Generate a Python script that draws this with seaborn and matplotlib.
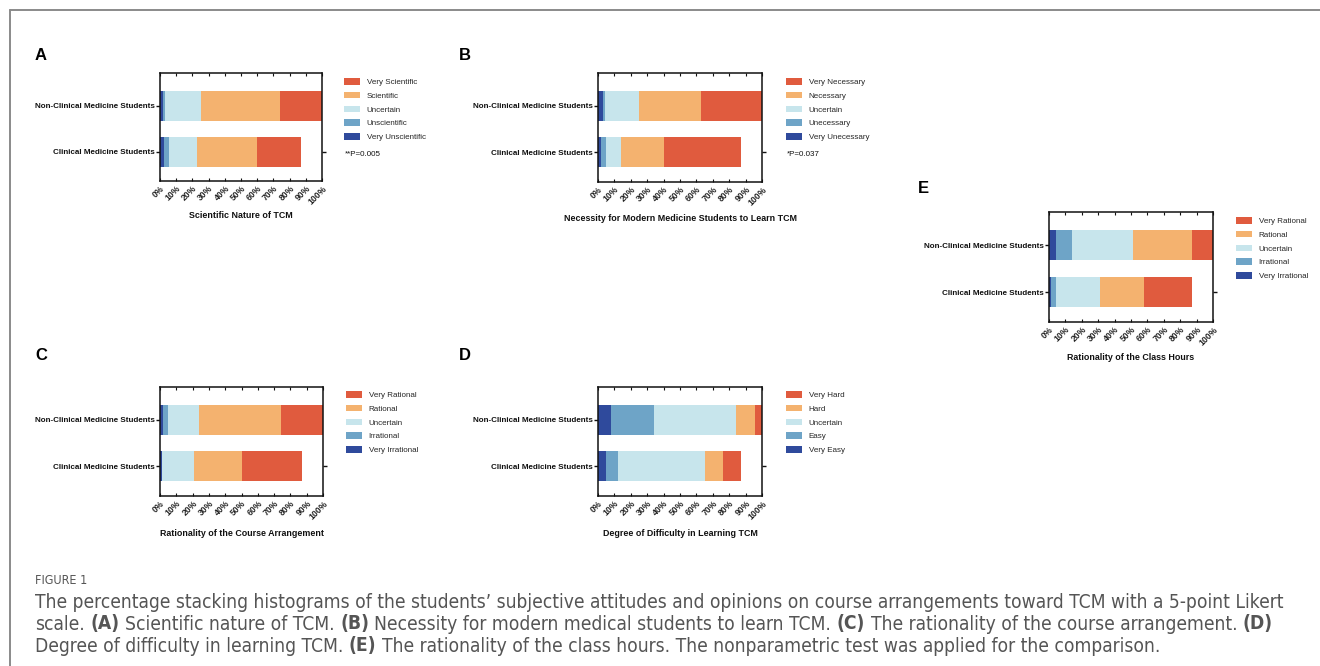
import pandas as pd
import matplotlib.pyplot as plt
import seaborn as sns
from matplotlib.patches import Patch
from matplotlib.lines import Line2D
from matplotlib import font_manager

W, H = 1320, 666

groups = ["Non-Clinical Medicine Students", "Clinical Medicine Students"]

# colours low -> high
palette = ["#2F4A9C", "#6EA4C7", "#C7E5EC", "#F4B26F", "#E05B3E"]

# A: scientific nature
a_levels = ["Very Unscientific", "Unscientific", "Uncertain", "Scientific", "Very Scientific"]
a_nonclin = [2, 1, 22, 49, 26]
a_clin = [2.7, 3, 17.3, 37, 27.3]

# B: necessity
b_levels = ["Very Unecessary", "Unecessary", "Uncertain", "Necessary", "Very Necessary"]
b_nonclin = [3, 1, 21, 37.5, 37.5]
b_clin = [2, 3, 9, 26, 47]

# C: course arrangement
c_levels = ["Very Irrational", "Irrational", "Uncertain", "Rational", "Very Rational"]
c_nonclin = [2, 3, 19, 50, 26]
c_clin = [1, 0.3, 19.7, 29, 37.2]

# D: difficulty
d_levels = ["Very Easy", "Easy", "Uncertain", "Hard", "Very Hard"]
d_nonclin = [8, 26, 50, 12, 4]
d_clin = [5, 7, 53, 11, 11]

# E: class hours
e_levels = ["Very Irrational", "Irrational", "Uncertain", "Rational", "Very Rational"]
e_nonclin = [4, 10, 37, 36, 13]
e_clin = [1, 3, 27, 27, 29]

xticks = list(range(0, 101, 10))
xticklabels = [f"{t}%" for t in xticks]

caption_head = "FIGURE 1"
caption_lines = [
    [("The percentage stacking histograms of the students\u2019 subjective attitudes and opinions on course arrangements toward TCM with a 5-point Likert", False)],
    [("scale.", False), ("(A)", True), ("Scientific nature of TCM.", False), ("(B)", True),
     ("Necessity for modern medical students to learn TCM.", False), ("(C)", True),
     ("The rationality of the course arrangement.", False), ("(D)", True)],
    [("Degree of difficulty in learning TCM.", False), ("(E)", True),
     ("The rationality of the class hours. The nonparametric test was applied for the comparison.", False)],
]

sns.set_style("white")
plt.rcParams["font.family"] = ["Liberation Sans", "DejaVu Sans"]

fig = plt.figure(figsize=(W / 100, H / 100), dpi=100)


def fx(x):
    return x / W


def fy(y):
    return 1 - y / H


def panel(box, letter, letter_xy, levels, nonclin, clin, xlabel, xlabel_y, leg_xy, pval=None):
    x0, y0, x1, y1 = box
    ax = fig.add_axes([fx(x0), fy(y1), fx(x1 - x0), (y1 - y0) / H])
    rows = []
    for g, vals in zip(groups, [nonclin, clin]):
        cum = 0
        for lvl, v in zip(levels, vals):
            cum += v
            rows.append({"group": g, "level": lvl, "cum": cum})
    df = pd.DataFrame(rows)
    for lvl, col in reversed(list(zip(levels, palette))):
        sub = df[df["level"] == lvl]
        sns.barplot(data=sub, x="cum", y="group", order=groups, color=col, orient="h",
                    width=0.65, saturation=1, errorbar=None, linewidth=0, ax=ax)
    ax.set_xlim(0, 100)
    ax.set_ylim(1.64, -0.71)
    ax.set_xticks(xticks)
    ax.set_xticklabels(xticklabels, rotation=45, ha="right", rotation_mode="anchor",
                       fontsize=6.2, fontweight="bold", color="#222222")
    ax.set_yticks([0, 1])
    ax.set_yticklabels(groups, fontsize=5.8, fontweight="bold", color="#111111")
    ax.set_xlabel("")
    ax.set_ylabel("")
    for s in ax.spines.values():
        s.set_visible(True)
        s.set_linewidth(1.1)
        s.set_color("#111111")
    ax.tick_params(axis="y", left=True, length=3, width=1, pad=1, color="#111111")
    ax.tick_params(axis="x", bottom=True, top=True, direction="in", length=2, width=0.8,
                   pad=2, color="#111111")
    sec = ax.secondary_yaxis("right")
    sec.set_yticks([1])
    sec.set_yticklabels([""])
    sec.tick_params(length=3, width=1, color="#111111")
    sec.spines["right"].set_visible(False)

    fig.text(fx((x0 + x1) / 2), fy(xlabel_y), xlabel, ha="center", va="center",
             fontsize=6.4, fontweight="bold", color="#111111")
    fig.text(fx(letter_xy[0]), fy(letter_xy[1]), letter, ha="left", va="center",
             fontsize=12, fontweight="bold", color="#000000")

    handles = [Patch(facecolor=c, edgecolor="none") for c in reversed(palette)]
    labels = list(reversed(levels))
    fig.legend(handles, labels, loc="upper left",
               bbox_to_anchor=(fx(leg_xy[0]), fy(leg_xy[1])), frameon=False,
               fontsize=5.8, handlelength=2.0, handleheight=0.9, handletextpad=0.8,
               labelspacing=0.7, borderaxespad=0, borderpad=0)
    if pval:
        fig.text(fx(leg_xy[0] + 1), fy(leg_xy[1] + 77), pval, ha="left", va="center",
                 fontsize=5.8, color="#111111")
    return ax


panel((160, 73, 322, 181), "A", (35, 55), a_levels, a_nonclin, a_clin,
      "Scientific Nature of TCM", 216, (344, 78), "**P=0.005")
panel((598, 73, 762, 182), "B", (459, 55), b_levels, b_nonclin, b_clin,
      "Necessity for Modern Medicine Students to Learn TCM", 218, (786, 78), "*P=0.037")
panel((160, 387, 323, 496), "C", (35, 355), c_levels, c_nonclin, c_clin,
      "Rationality of the Course Arrangement", 533, (346, 391))
panel((598, 387, 762, 496), "D", (459, 355), d_levels, d_nonclin, d_clin,
      "Degree of Difficulty in Learning TCM", 533, (786, 391))
panel((1049, 212, 1213, 322), "E", (918, 188), e_levels, e_nonclin, e_clin,
      "Rationality of the Class Hours", 358, (1236, 217))

# frame lines of the figure page
fig.add_artist(Line2D([fx(10), fx(10)], [0, fy(10)], color="#8a8a8a", lw=1.4))
fig.add_artist(Line2D([fx(10), 1], [fy(10), fy(10)], color="#8a8a8a", lw=1.4))

# caption: use a condensed face if one is installed
cap_kw = {"family": ["Liberation Sans", "DejaVu Sans"]}
cond = font_manager.FontProperties(family="DejaVu Sans", stretch="condensed")
cond_file = font_manager.findfont(cond, fallback_to_default=False)
if "Condensed" in cond_file:
    cap_kw = {"family": ["DejaVu Sans"], "fontstretch": "condensed"}
cap_color = "#555555"
renderer = fig.canvas.get_renderer()
probe = fig.text(0, 0, caption_lines[0][0][0], fontsize=10, **cap_kw)
probe_w = probe.get_window_extent(renderer).width
probe.remove()
cap_size = min(10 * 1250 / probe_w, 14)

sp = fig.text(0, 0, "x x", fontsize=cap_size, **cap_kw)
sp2 = fig.text(0, 0, "xx", fontsize=cap_size, **cap_kw)
space_w = sp.get_window_extent(renderer).width - sp2.get_window_extent(renderer).width
sp.remove()
sp2.remove()

fig.text(fx(35), fy(581), caption_head, fontsize=9, color=cap_color,
         ha="left", va="center", **cap_kw)
for line, ypx in zip(caption_lines, [602, 624, 646]):
    xpx = 35
    for text, bold in line:
        t = fig.text(fx(xpx), fy(ypx), text, fontsize=cap_size,
                     fontweight="bold" if bold else "normal", color=cap_color,
                     ha="left", va="center", **cap_kw)
        xpx += t.get_window_extent(renderer).width + space_w

fig.savefig("out.png", dpi=100)
